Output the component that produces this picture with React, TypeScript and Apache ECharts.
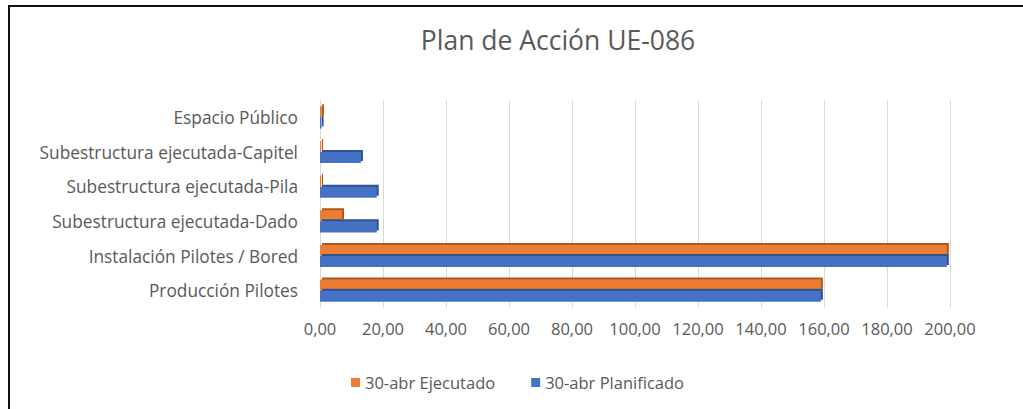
import React, { useEffect, useRef } from "react";
import * as echarts from "echarts";

const categories = [
  "Producción Pilotes",
  "Instalación Pilotes / Bored",
  "Subestructura ejecutada-Dado",
  "Subestructura ejecutada-Pila",
  "Subestructura ejecutada-Capitel",
  "Espacio Público",
];
const ejecutado = [159, 199, 7, 0.4, 0.4, 0.6];
const planificado = [159, 199, 18, 18, 13, 0.5];
const xTicks = [0, 20, 40, 60, 80, 100, 120, 140, 160, 180, 200];
const seriesNames = ["30-abr Ejecutado", "30-abr Planificado"];

const FONT = "Open Sans";
const TEXT = "#595959";

export default function App() {
  const ref = useRef<HTMLDivElement>(null);
  useEffect(() => {
    if (!ref.current) return;
    const chart = echarts.init(ref.current, undefined, { renderer: "svg" });
    chart.setOption({
      animation: false,
      backgroundColor: "#ffffff",
      title: {
        text: "Plan de Acción UE-086",
        left: 553,
        textAlign: "center",
        top: 21,
        textStyle: { fontFamily: FONT, fontSize: 26.5, fontWeight: "normal", color: TEXT },
      },
      legend: {
        data: seriesNames,
        left: 346,
        top: 369,
        itemWidth: 9,
        itemHeight: 9,
        itemGap: 36,
        icon: "rect",
        textStyle: { fontFamily: FONT, fontSize: 16.5, color: TEXT },
      },
      grid: { left: 320, right: 73, top: 100, bottom: 101 },
      xAxis: {
        type: "value",
        min: 0,
        max: 200,
        interval: 20,
        axisLine: { show: false },
        axisTick: { show: false },
        splitLine: { show: true, lineStyle: { color: "#D9D9D9", width: 1 } },
        axisLabel: {
          margin: 12,
          fontFamily: FONT,
          fontSize: 16.5,
          color: TEXT,
          formatter: (v: number) =>
            xTicks.includes(v) ? v.toFixed(2).replace(".", ",") : "",
        },
      },
      yAxis: {
        type: "category",
        data: categories,
        axisLine: { show: false },
        axisTick: { show: false },
        splitLine: { show: false },
        axisLabel: { margin: 22, fontFamily: FONT, fontSize: 17.3, color: TEXT },
      },
      series: [
        {
          name: seriesNames[0],
          type: "bar",
          data: ejecutado,
          barCategoryGap: "36%",
          barGap: "0%",
          itemStyle: {
            color: "#ED7D31",
            shadowColor: "#B0591E",
            shadowBlur: 0,
            shadowOffsetX: 2,
            shadowOffsetY: -2,
          },
        },
        {
          name: seriesNames[1],
          type: "bar",
          data: planificado,
          barCategoryGap: "36%",
          barGap: "0%",
          itemStyle: {
            color: "#4472C4",
            shadowColor: "#2F528F",
            shadowBlur: 0,
            shadowOffsetX: 2,
            shadowOffsetY: -2,
          },
        },
      ],
      graphic: [
        {
          type: "polyline",
          shape: { points: [[9, 409], [9, 6], [1023, 6]] },
          style: { stroke: "#111111", lineWidth: 2, fill: "none" },
          silent: true,
        },
      ],
    });
    return () => chart.dispose();
  }, []);
  return (
    <div
      ref={ref}
      style={{ position: "absolute", left: 0, top: 0, width: 1023, height: 409 }}
    />
  );
}
